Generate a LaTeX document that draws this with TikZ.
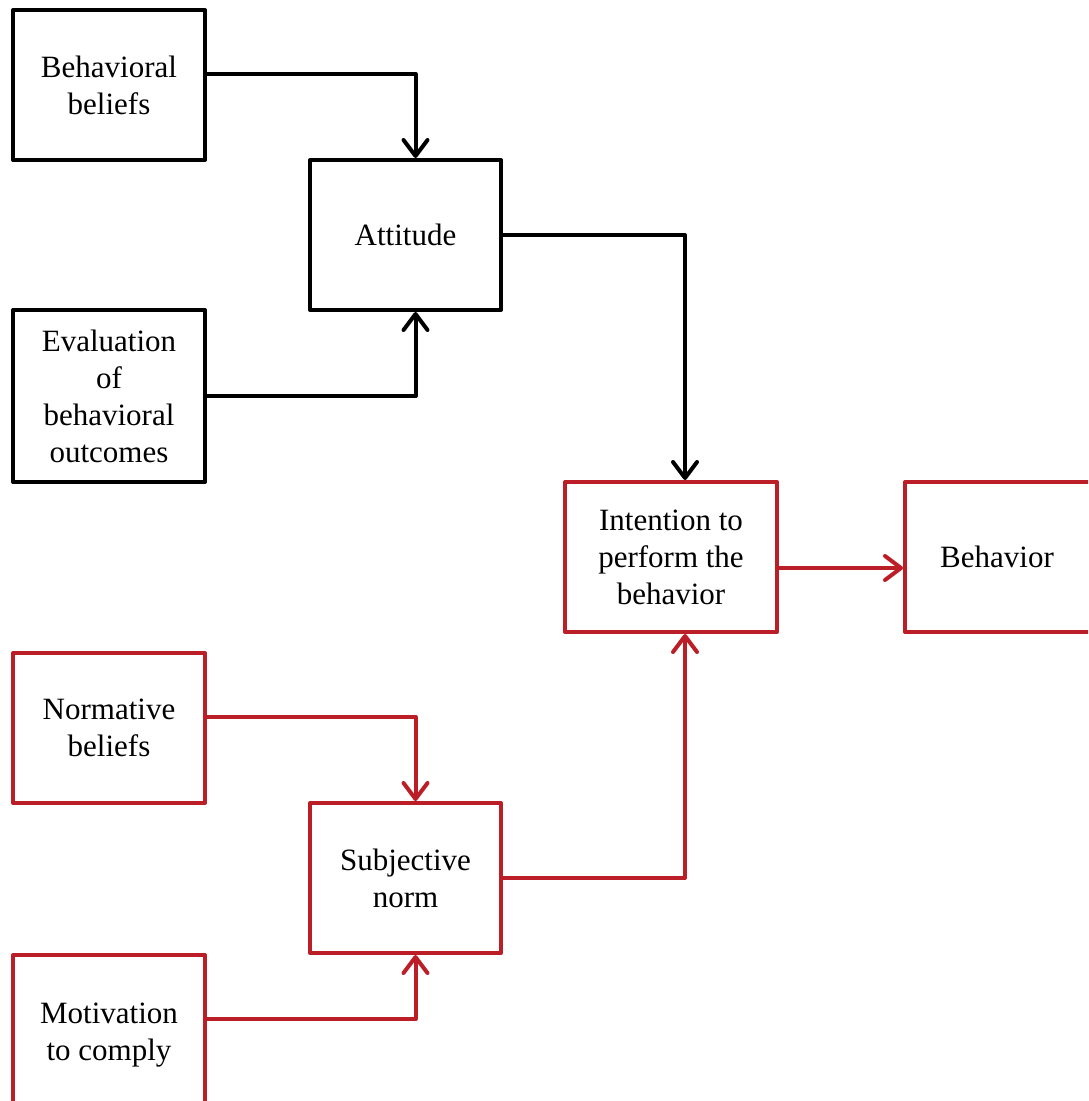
\documentclass[tikz,border=0pt]{standalone}
\usepackage{fontspec}
\setmainfont{Liberation Serif}
\usetikzlibrary{arrows.meta}
\definecolor{tpbred}{RGB}{187,30,38}

\begin{document}
\begin{tikzpicture}[
        x=0.5pt, y=-0.5pt, line width=2pt, line join=round,
        >={Straight Barb[length=8pt,width=12pt,round]},
        box/.style={draw, rectangle, align=center, inner sep=0pt,
                    font=\fontsize{15.5}{18.5}\selectfont},
        redbox/.style={box, draw=tpbred},
    ]
    \useasboundingbox (0,0) rectangle (1088,1101);
    \clip (0,0) rectangle (1088,1101);

    % attitude branch
    \node[box, minimum width=96pt, minimum height=75pt] (bb) at (109,85) {Behavioral\\beliefs};
    \node[box, minimum width=95.5pt, minimum height=75pt] (att) at (405.5,235) {Attitude};
    \node[box, minimum width=96pt, minimum height=86pt] (eval) at (109,396) {Evaluation\\of\\behavioral\\outcomes};

    % intention and behaviour
    \node[redbox, minimum width=106pt, minimum height=75pt] (int) at (671,557) {Intention to\\perform the\\behavior};
    \node[redbox, minimum width=98pt, minimum height=75pt, anchor=west] (beh) at (903,557) {\hspace*{-6pt}Behavior};

    % norm branch
    \node[redbox, minimum width=96pt, minimum height=75pt] (nb) at (109,728) {Normative\\beliefs};
    \node[redbox, minimum width=95.5pt, minimum height=75pt] (sn) at (405.5,878) {Subjective\\norm};
    \node[redbox, minimum width=96pt, minimum height=80pt, anchor=north] (mot) at (109,953) {Motivation\\to comply};

    \draw[->] ([yshift=5.5pt]bb.east) -| ([xshift=5pt]att.north);
    \draw[->] (eval.east) -| ([xshift=5pt]att.south);
    \draw[->] (att.east) -| ([xshift=7pt]int.north);

    \draw[->, tpbred] ([yshift=-5.5pt]int.east) -- ([yshift=-5.5pt]beh.west);

    \draw[->, tpbred] ([yshift=5.5pt]nb.east) -| ([xshift=5pt]sn.north);
    \draw[->, tpbred] ([yshift=8pt]mot.east) -| ([xshift=5pt]sn.south);
    \draw[->, tpbred] (sn.east) -| ([xshift=7pt]int.south);

\end{tikzpicture}
\end{document}
